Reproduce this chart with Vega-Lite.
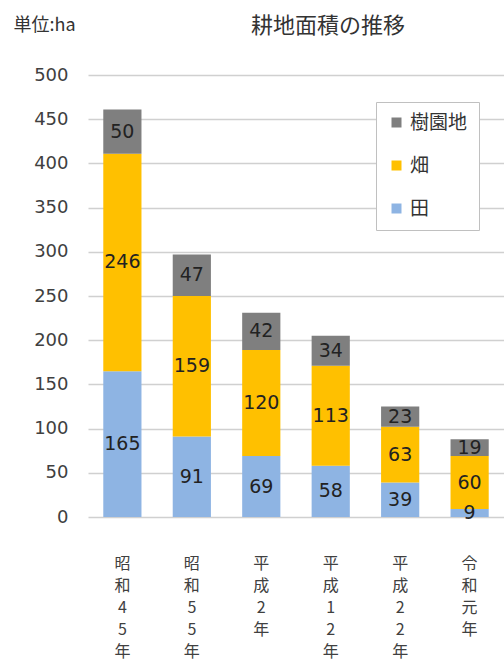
{
  "$schema": "https://vega.github.io/schema/vega-lite/v6.json",
  "autosize": {"type": "none"},
  "width": 416,
  "height": 442,
  "padding": {"left": 88, "top": 75, "right": 0, "bottom": 154},
  "background": "white",
  "config": {
    "font": "Noto Sans CJK JP",
    "view": {"stroke": null}
  },
  "title": {
    "text": "耕地面積の推移",
    "fontSize": 22,
    "fontWeight": "normal",
    "color": "#333333",
    "anchor": "middle",
    "dx": 32,
    "offset": -22
  },
  "data": {
    "values": [
      {"year": "昭和45年", "type": "田", "area": 165},
      {"year": "昭和45年", "type": "畑", "area": 246},
      {"year": "昭和45年", "type": "樹園地", "area": 50},
      {"year": "昭和55年", "type": "田", "area": 91},
      {"year": "昭和55年", "type": "畑", "area": 159},
      {"year": "昭和55年", "type": "樹園地", "area": 47},
      {"year": "平成2年", "type": "田", "area": 69},
      {"year": "平成2年", "type": "畑", "area": 120},
      {"year": "平成2年", "type": "樹園地", "area": 42},
      {"year": "平成12年", "type": "田", "area": 58},
      {"year": "平成12年", "type": "畑", "area": 113},
      {"year": "平成12年", "type": "樹園地", "area": 34},
      {"year": "平成22年", "type": "田", "area": 39},
      {"year": "平成22年", "type": "畑", "area": 63},
      {"year": "平成22年", "type": "樹園地", "area": 23},
      {"year": "令和元年", "type": "田", "area": 9},
      {"year": "令和元年", "type": "畑", "area": 60},
      {"year": "令和元年", "type": "樹園地", "area": 19}
    ]
  },
  "transform": [
    {"calculate": "datum.type === '田' ? 0 : datum.type === '畑' ? 1 : 2", "as": "ord"},
    {"stack": "area", "groupby": ["year"], "sort": [{"field": "ord", "order": "ascending"}], "as": ["y0", "y1"]},
    {"calculate": "(datum.y0 + datum.y1) / 2", "as": "mid"}
  ],
  "encoding": {
    "x": {
      "field": "year",
      "type": "nominal",
      "sort": ["昭和45年", "昭和55年", "平成2年", "平成12年", "平成22年", "令和元年"],
      "scale": {"paddingInner": 0.45, "paddingOuter": 0.22},
      "axis": {
        "title": null,
        "labelAngle": 0,
        "labelExpr": "split(datum.label, '')",
        "labelFontSize": 16,
        "labelLineHeight": 22,
        "labelBaseline": "top",
        "labelPadding": 38,
        "labelColor": "#404040",
        "ticks": false,
        "domain": false
      }
    }
  },
  "layer": [
    {
      "mark": {"type": "bar"},
      "encoding": {
        "y": {
          "field": "y0",
          "type": "quantitative",
          "scale": {"domain": [0, 500]},
          "axis": {
            "values": [0, 50, 100, 150, 200, 250, 300, 350, 400, 450, 500],
            "title": "単位:ha",
            "titleAngle": 0,
            "titleAlign": "left",
            "titleBaseline": "middle",
            "titleX": -75,
            "titleY": -50,
            "titleFont": "Noto Sans CJK JP",
            "titleFontSize": 18,
            "titleFontWeight": "normal",
            "titleColor": "#333333",
            "labelFont": "DejaVu Sans",
            "labelFontSize": 18,
            "labelColor": "#404040",
            "labelPadding": 20,
            "ticks": false,
            "domain": false,
            "grid": true,
            "gridColor": "#d0d0d0",
            "gridWidth": 1.5
          }
        },
        "y2": {"field": "y1"},
        "color": {
          "field": "type",
          "type": "nominal",
          "scale": {"domain": ["樹園地", "畑", "田"], "range": ["#7f7f7f", "#ffc000", "#8eb4e3"]},
          "legend": {
            "title": null,
            "orient": "none",
            "legendX": 288,
            "legendY": 27,
            "symbolType": "square",
            "symbolSize": 100,
            "symbolStrokeWidth": 0,
            "labelFontSize": 19,
            "labelColor": "#333333",
            "labelOffset": 4,
            "rowPadding": 23,
            "padding": 11,
            "fillColor": "white",
            "strokeColor": "#c0c0c0"
          }
        }
      }
    },
    {
      "mark": {"type": "text", "font": "DejaVu Sans", "fontSize": 19, "color": "#222222", "baseline": "middle"},
      "encoding": {
        "y": {"field": "mid", "type": "quantitative"},
        "text": {"field": "area", "type": "quantitative"}
      }
    }
  ]
}
